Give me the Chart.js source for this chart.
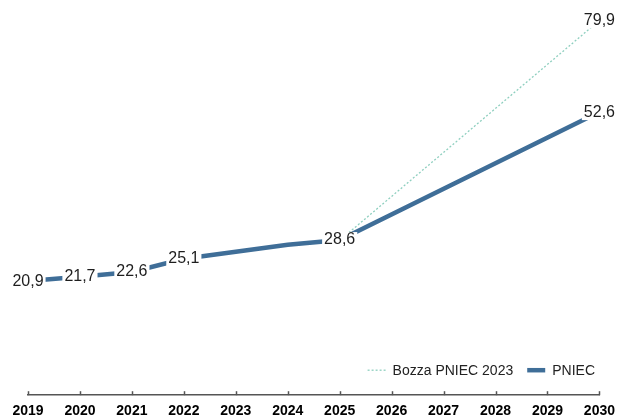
<!DOCTYPE html>
<html>
<head>
<meta charset="utf-8">
<script src="https://cdn.jsdelivr.net/npm/chart.js@4.4.0/dist/chart.umd.min.js"></script>
<style>
  html, body { margin: 0; padding: 0; background: #fff; }
  #wrap { width: 623px; height: 419px; position: relative; }
</style>
</head>
<body>
<div id="wrap"><canvas id="myChart"></canvas></div>
<script>
const years = ["2019", "2020", "2021", "2022", "2023", "2024", "2025", "2026", "2027", "2028", "2029", "2030"];
const pniecValues = [20.9, 21.7, 22.6, 25.1, 26.4, 27.7, 28.6, null, null, null, null, 52.6];
const bozzaValues = [null, null, null, null, null, null, 28.6, null, null, null, null, 79.9];
const pniecLabelled = [0, 1, 2, 3, 6, 11];
const bozzaLabelled = [11];

const fontFamily = "'Liberation Sans', Arial, sans-serif";

// value labels on a white box, covering the line behind them
const valueLabels = {
    id: "valueLabels",
    afterDatasetsDraw(chart) {
        const ctx = chart.ctx;
        ctx.save();
        ctx.font = "16px " + fontFamily;
        ctx.textAlign = "center";
        ctx.textBaseline = "middle";
        chart.data.datasets.forEach((ds, di) => {
            const meta = chart.getDatasetMeta(di);
            ds.labelled.forEach(i => {
                const pt = meta.data[i];
                const txt = ds.data[i].toFixed(1).replace(".", ",");
                const w = ctx.measureText(txt).width;
                ctx.fillStyle = "#fff";
                ctx.fillRect(pt.x - w / 2 - 2, pt.y - 8, w + 4, 16);
                ctx.fillStyle = "#1e1e1e";
                ctx.fillText(txt, pt.x, pt.y);
            });
        });
        ctx.restore();
    }
};

// small tick marks pointing up from the x axis
const upTicks = {
    id: "upTicks",
    afterDraw(chart) {
        const ctx = chart.ctx;
        const x = chart.scales.x;
        const y0 = chart.chartArea.bottom;
        ctx.save();
        ctx.strokeStyle = "#555";
        ctx.lineWidth = 1.5;
        x.ticks.forEach((t, i) => {
            const px = Math.round(x.getPixelForTick(i)) + 0.5;
            ctx.beginPath();
            ctx.moveTo(px, y0);
            ctx.lineTo(px, y0 - 4);
            ctx.stroke();
        });
        ctx.restore();
    }
};

// legend inside the plot, bottom right
const innerLegend = {
    id: "innerLegend",
    afterDraw(chart) {
        const ctx = chart.ctx;
        ctx.save();
        ctx.font = "14px " + fontFamily;
        ctx.textBaseline = "middle";
        const y = chart.chartArea.bottom - 25;
        const items = chart.data.datasets.map(ds => ({ ds, w: ctx.measureText(ds.label).width }));
        let total = 0;
        items.forEach((it, k) => { total += 18 + 7 + it.w + (k < items.length - 1 ? 14 : 0); });
        let x = 595 - total;
        items.forEach(it => {
            ctx.strokeStyle = it.ds.borderColor;
            ctx.lineWidth = it.ds.borderWidth;
            ctx.setLineDash(it.ds.borderDash || []);
            ctx.beginPath();
            ctx.moveTo(x, y);
            ctx.lineTo(x + 18, y);
            ctx.stroke();
            ctx.setLineDash([]);
            ctx.fillStyle = "#222";
            ctx.fillText(it.ds.label, x + 25, y + 1);
            x += 18 + 7 + it.w + 14;
        });
        ctx.restore();
    }
};

new Chart("myChart", {
    type: "line",
    data: {
        labels: years,
        datasets: [{
            label: "Bozza PNIEC 2023",
            data: bozzaValues,
            labelled: bozzaLabelled,
            yAxisID: "y2",
            borderColor: "#8ecfbf",
            borderWidth: 1.3,
            borderDash: [2, 2],
            pointRadius: 0,
            spanGaps: true,
            tension: 0
        }, {
            label: "PNIEC",
            data: pniecValues,
            labelled: pniecLabelled,
            yAxisID: "y",
            borderColor: "#3f6e98",
            borderWidth: 4.5,
            pointRadius: 0,
            spanGaps: true,
            tension: 0
        }]
    },
    options: {
        responsive: true,
        maintainAspectRatio: false,
        animation: false,
        layout: { padding: { left: 28, right: 13, top: 14, bottom: -9 } },
        plugins: {
            legend: { display: false },
            tooltip: { enabled: false }
        },
        scales: {
            x: {
                offset: false,
                grid: { display: false, drawTicks: false },
                border: { display: true, color: "#555", width: 1.5 },
                ticks: {
                    color: "#000",
                    padding: 8,
                    maxRotation: 0,
                    autoSkip: false,
                    font: { family: fontFamily, size: 14, weight: "bold" }
                }
            },
            y: { display: false, min: -0.5, max: 71 },
            y2: { display: false, min: -7.5, max: 81.4 }
        }
    },
    plugins: [valueLabels, upTicks, innerLegend]
});
</script>
</body>
</html>
